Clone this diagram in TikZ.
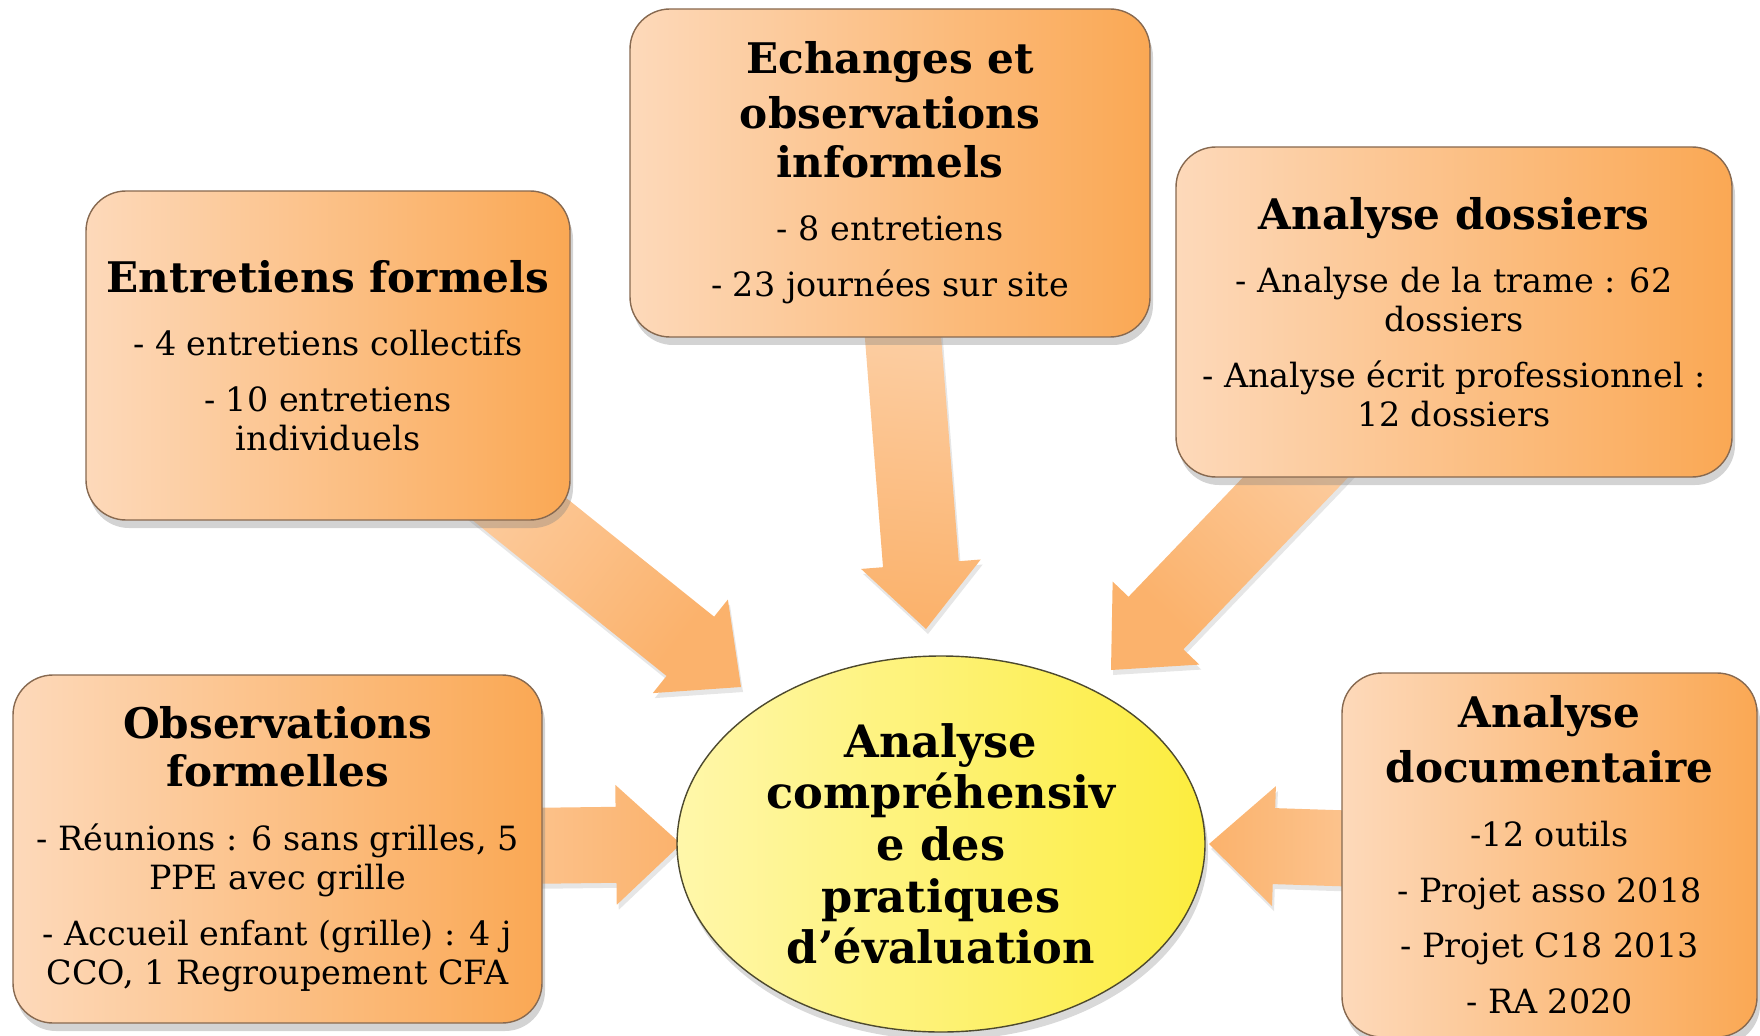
\documentclass[tikz,border=0pt]{standalone}
\usepackage{fontspec}
\setmainfont{DejaVu Serif}
\usetikzlibrary{positioning,calc,shadows,shapes.geometric}
\pgfdeclarelayer{background}
\pgfsetlayers{background,main}

\definecolor{peche}{RGB}{253,217,186}
\definecolor{orangeclair}{RGB}{252,199,150}
\definecolor{orangefonce}{RGB}{250,168,84}
\definecolor{bordbrun}{RGB}{135,105,80}
\definecolor{jaunepale}{RGB}{255,247,170}
\definecolor{jaunevif}{RGB}{252,237,62}
\definecolor{flechepale}{RGB}{253,221,192}
\definecolor{flechefonce}{RGB}{251,178,108}

\newcommand{\titre}[1]{{\fontsize{12}{13.9}\selectfont\bfseries #1}}

% grosse fleche : #1 depart, #2 pointe, #3 angle du degrade
\newcommand{\grossefleche}[3]{%
  \coordinate (#2base) at ($(#2)!6.5mm!(#1)$);
  \path[fleche, shading angle=#3]
    ($(#1)!3.8mm!90:(#2)$) -- ($(#2base)!3.8mm!90:(#2)$) --
    ($(#2base)!6mm!90:(#2)$) -- (#2) --
    ($(#2base)!6mm!-90:(#2)$) -- ($(#2base)!3.8mm!-90:(#2)$) --
    ($(#1)!3.8mm!-90:(#2)$) -- cycle;}

\begin{document}
\begin{tikzpicture}[x=0.1mm,y=-0.1mm,
  boite/.style={rectangle, rounded corners=4mm, draw=bordbrun, line width=0.4pt,
    left color=peche, middle color=orangeclair, right color=orangefonce,
    drop shadow={shadow xshift=0.3mm, shadow yshift=-0.8mm, opacity=0.35},
    align=center, inner sep=0pt, font=\fontsize{9.5}{11.1}\selectfont},
  centre/.style={ellipse, draw=black!60!olive, line width=0.4pt,
    left color=jaunepale, right color=jaunevif,
    drop shadow={shadow xshift=0.3mm, shadow yshift=-0.8mm, opacity=0.3},
    align=center, inner sep=0pt, font=\fontsize{12.7}{14.7}\selectfont\bfseries},
  fleche/.style={top color=flechepale, bottom color=flechefonce,
    drop shadow={shadow xshift=0.2mm, shadow yshift=-0.5mm, opacity=0.2}},
  ]
  \useasboundingbox (0,0) rectangle (1760,1036);
  %Nodes
  \node[centre, minimum width=52.8mm, minimum height=37.6mm] (ana) at (941,844)
    {Analyse\\compréhensiv\\e des\\pratiques\\d’évaluation};
  \node[boite, minimum width=48.4mm, minimum height=32.9mm] (ent) at (328,355.5)
    {\titre{Entretiens formels}\\[7pt]
     - 4 entretiens collectifs\\[4.8pt]
     - 10 entretiens\\individuels};
  \node[boite, minimum width=52mm, minimum height=32.8mm] (ech) at (890,173)
    {\titre{Echanges et}\\[2.8pt]\titre{observations}\\[2.8pt]\titre{informels}\\[7pt]
     - 8 entretiens\\[4.8pt]
     - 23 journées sur site};
  \node[boite, minimum width=55.6mm, minimum height=33mm] (dos) at (1454,312)
    {\titre{Analyse dossiers}\\[7pt]
     - Analyse de la trame : 62\\dossiers\\[4.8pt]
     - Analyse écrit professionnel :\\12 dossiers};
  \node[boite, minimum width=52.9mm, minimum height=34.8mm] (obs) at (277.5,849)
    {\titre{Observations}\\[2.8pt]\titre{formelles}\\[7pt]
     - Réunions : 6 sans grilles, 5\\PPE avec grille\\[4.8pt]
     - Accueil enfant (grille) : 4 j\\CCO, 1 Regroupement CFA};
  \node[boite, minimum width=41.5mm, minimum height=36.4mm] (doc) at (1549.5,855)
    {\titre{Analyse}\\[2.8pt]\titre{documentaire}\\[7pt]
     -12 outils\\[4.8pt]
     - Projet asso 2018\\[4.8pt]
     - Projet C18 2013\\[4.8pt]
     - RA 2020};
  \coordinate (p1) at (741,687);
  \coordinate (p2) at (926,629);
  \coordinate (p3) at (1111,670);
  \coordinate (p4) at (681,844);
  \coordinate (p5) at (1209,844);

  \begin{pgfonlayer}{background}
  %Arrows
  \grossefleche{ent}{p1}{52}
  \grossefleche{ech}{p2}{-5}
  \grossefleche{dos}{p3}{-44}
  \grossefleche{obs}{p4}{90}
  \grossefleche{doc}{p5}{-90}
  \end{pgfonlayer}
\end{tikzpicture}
\end{document}
